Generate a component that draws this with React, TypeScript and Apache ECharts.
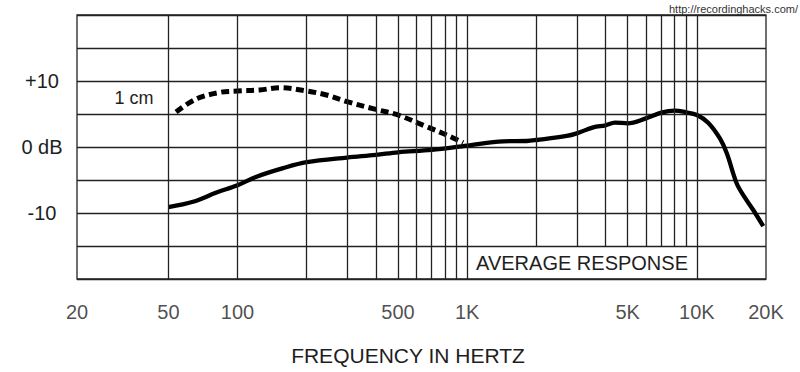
import React, { useEffect, useRef } from 'react';
import * as echarts from 'echarts';

// Solid curve: average response (frequency in Hz, level in dB)
const solidFreq = [50, 64, 81, 100, 121, 158, 200, 300, 400, 500, 700, 1000, 1435, 1818, 2000, 2710, 3000, 3540, 4000, 4400, 5000, 6000, 7000, 8000, 9000, 10000, 11200, 12600, 13500, 14900, 15900, 17600, 19450];
const solidDb = [-9.1, -8.3, -6.9, -5.8, -4.5, -3.2, -2.3, -1.6, -1.2, -0.8, -0.45, 0.2, 0.86, 0.91, 1.06, 1.67, 2.07, 2.98, 3.28, 3.69, 3.59, 4.34, 5.2, 5.5, 5.25, 4.85, 3.69, 1.3, -0.96, -5.5, -7.27, -9.55, -12.0];

// Dashed curve: 1 cm proximity response
const dashedFreq = [54, 66, 84, 100, 125, 153, 200, 244, 300, 400, 500, 666, 814, 960];
const dashedDb = [5.3, 7.27, 8.28, 8.48, 8.64, 8.98, 8.48, 7.88, 6.87, 5.7, 4.85, 3.08, 1.82, 0.65];

const yTickValues = [10, 0, -10];
const yTickLabels = ['+10', '0 dB', '-10'];
const xTickValues = [20, 50, 100, 500, 1000, 5000, 10000, 20000];
const xTickLabels = ['20', '50', '100', '500', '1K', '5K', '10K', '20K'];
const fullGridFreqs = [50, 100, 200, 300, 400, 500, 600, 700, 800, 900, 1000, 10000];
const partialGridFreqs = [2000, 3000, 4000, 5000, 6000, 7000, 8000, 9000];
const boxFreqs = [1000, 10000];
const boxDb = [-20, -15];
const curveLabel = '1 cm';
const curveLabelAt = [35.4, 7.35];
const boxLabel = 'AVERAGE RESPONSE';
const xTitle = 'FREQUENCY IN HERTZ';
const sourceText = 'http://recordinghacks.com/';

const FONT = '"Liberation Sans", Arial, Helvetica, sans-serif';
const INK = '#1e1e1e';
const GRID = '#222';

export default function App() {
  const ref = useRef<HTMLDivElement>(null);
  useEffect(() => {
    if (!ref.current) return;
    const chart = echarts.init(ref.current, undefined, { renderer: 'svg' });
    const gridLineStyle = { color: GRID, width: 1.3, type: 'solid' as const };
    chart.setOption({
      animation: false,
      backgroundColor: '#fff',
      grid: { left: 77, right: 34, top: 15, bottom: 93, show: true, borderColor: GRID, borderWidth: 1.3, backgroundColor: 'transparent' },
      xAxis: {
        type: 'log', logBase: 10, min: 20, max: 20000,
        axisLine: { show: false }, axisTick: { show: false }, axisLabel: { show: false }, splitLine: { show: false },
      },
      yAxis: {
        type: 'value', min: -20, max: 20, interval: 5,
        axisLine: { show: false }, axisTick: { show: false },
        splitLine: { show: true, lineStyle: gridLineStyle },
        axisLabel: {
          formatter: (v: number) => {
            const i = yTickValues.indexOf(v);
            return i >= 0 ? yTickLabels[i] : '';
          },
          align: 'center', margin: 35, fontSize: 20, color: INK, fontFamily: FONT,
          padding: [4, 0, 0, 0],
        },
      },
      graphic: [
        { type: 'text', right: 2, top: 3, style: { text: sourceText, fontSize: 11, fill: '#333', fontFamily: FONT } },
        { type: 'text', x: 408, y: 355, style: { text: xTitle, fontSize: 21, fill: INK, fontFamily: FONT, align: 'center', verticalAlign: 'middle' } },
      ],
      series: [
        {
          type: 'line', name: 'grid', data: [], z: 1, silent: true,
          markLine: {
            silent: true, symbol: ['none', 'none'], label: { show: false },
            lineStyle: gridLineStyle,
            data: [
              ...fullGridFreqs.map((f) => [{ coord: [f, -20] }, { coord: [f, 20] }]),
              ...partialGridFreqs.map((f) => [{ coord: [f, boxDb[1]] }, { coord: [f, 20] }]),
            ],
          },
          markArea: {
            silent: true,
            itemStyle: { color: 'rgba(255,255,255,0)' },
            label: { show: true, position: 'inside', fontSize: 20, color: INK, fontFamily: FONT },
            data: [[{ name: boxLabel, coord: [boxFreqs[0], boxDb[0]] }, { coord: [boxFreqs[1], boxDb[1]] }]],
          },
        },
        {
          type: 'line', name: 'average', z: 3,
          data: solidFreq.map((f, i) => [f, solidDb[i]]),
          showSymbol: false, smooth: 0.35,
          lineStyle: { color: '#000', width: 4.3 },
        },
        {
          type: 'line', name: '1 cm', z: 3,
          data: dashedFreq.map((f, i) => [f, dashedDb[i]]),
          showSymbol: false, smooth: 0.35,
          lineStyle: { color: '#000', width: 5, type: [8, 4.5], cap: 'butt' },
          markPoint: {
            silent: true, symbol: 'circle', symbolSize: 0,
            label: { show: true, position: 'inside', formatter: curveLabel, fontSize: 18, color: INK, fontFamily: FONT },
            data: [{ coord: curveLabelAt, name: curveLabel }],
          },
        },
        {
          type: 'scatter', name: 'xlabels', z: 4, silent: true, clip: false,
          symbolSize: 0,
          data: xTickValues.map((v) => [v, -20]),
          label: {
            show: true, position: 'bottom', distance: 23,
            formatter: (p: any) => xTickLabels[p.dataIndex],
            fontSize: 20, color: INK, fontFamily: FONT,
          },
        },
      ],
    });
    return () => chart.dispose();
  }, []);
  return <div ref={ref} style={{ position: 'absolute', left: 0, top: 0, width: 800, height: 372 }} />;
}
